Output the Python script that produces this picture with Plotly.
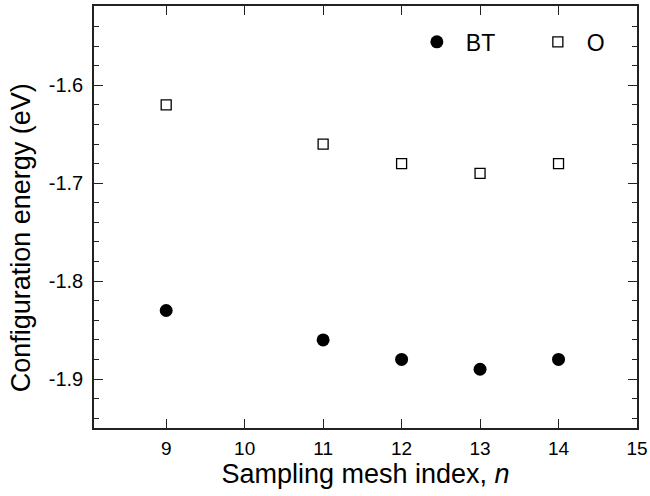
import plotly.graph_objects as go

n_values = [9, 11, 12, 13, 14]
bt_energy = [-1.83, -1.86, -1.88, -1.89, -1.88]
o_energy = [-1.62, -1.66, -1.68, -1.69, -1.68]
x_ticks = [9, 10, 11, 12, 13, 14, 15]
y_ticks = [-1.6, -1.7, -1.8, -1.9]

font_family = "Liberation Sans, Arial, sans-serif"

fig = go.Figure()
fig.add_trace(go.Scatter(
    x=n_values, y=bt_energy, mode="markers", name="BT",
    marker=dict(symbol="circle", size=13, color="black", line=dict(width=0)),
))
fig.add_trace(go.Scatter(
    x=n_values, y=o_energy, mode="markers", name="O",
    marker=dict(symbol="square-open", size=10, color="black", line=dict(width=1.3)),
))

fig.add_annotation(
    text="Configuration energy (eV)", textangle=-90,
    xref="paper", yref="paper", x=-0.134, y=0.45,
    xanchor="center", yanchor="middle", showarrow=False,
    font=dict(size=27, family=font_family, color="black"),
)

fig.update_layout(
    width=650, height=496,
    margin=dict(l=94, r=13, t=6, b=68, autoexpand=False),
    paper_bgcolor="white", plot_bgcolor="white",
    font=dict(family=font_family, color="black"),
    showlegend=True,
    legend=dict(
        orientation="h", x=0.578, y=0.915, xanchor="left", yanchor="middle",
        font=dict(size=23, family=font_family), bgcolor="rgba(0,0,0,0)",
        itemwidth=48, entrywidth=58, tracegroupgap=0,
    ),
    xaxis=dict(
        range=[8.08, 15], tickvals=x_ticks, ticktext=[str(v) for v in x_ticks],
        ticks="inside", ticklen=9, tickwidth=1.2, tickcolor="#222",
        showline=True, linecolor="#222", linewidth=1.5, mirror="ticks",
        showgrid=False, zeroline=False, automargin=False,
        tickfont=dict(size=19, family=font_family), ticklabelstandoff=2,
        title=dict(text="Sampling mesh index, <i>n</i>", font=dict(size=27, family=font_family), standoff=4),
    ),
    yaxis=dict(
        range=[-1.95, -1.519], tickvals=y_ticks, ticktext=[f"{v:.1f}" for v in y_ticks],
        ticks="inside", ticklen=9, tickwidth=1.2, tickcolor="#222",
        showline=True, linecolor="#222", linewidth=1.5, mirror="ticks",
        showgrid=False, zeroline=False, automargin=False,
        tickfont=dict(size=20, family=font_family), ticklabelstandoff=5,
        minor=dict(dtick=0.02, tick0=-1.9, ticks="inside", ticklen=5, tickwidth=1.2, tickcolor="#222", showgrid=False),
    ),
)

fig.write_html("out.html", config={"displayModeBar": False},
               post_script="document.body.style.margin='0';")
